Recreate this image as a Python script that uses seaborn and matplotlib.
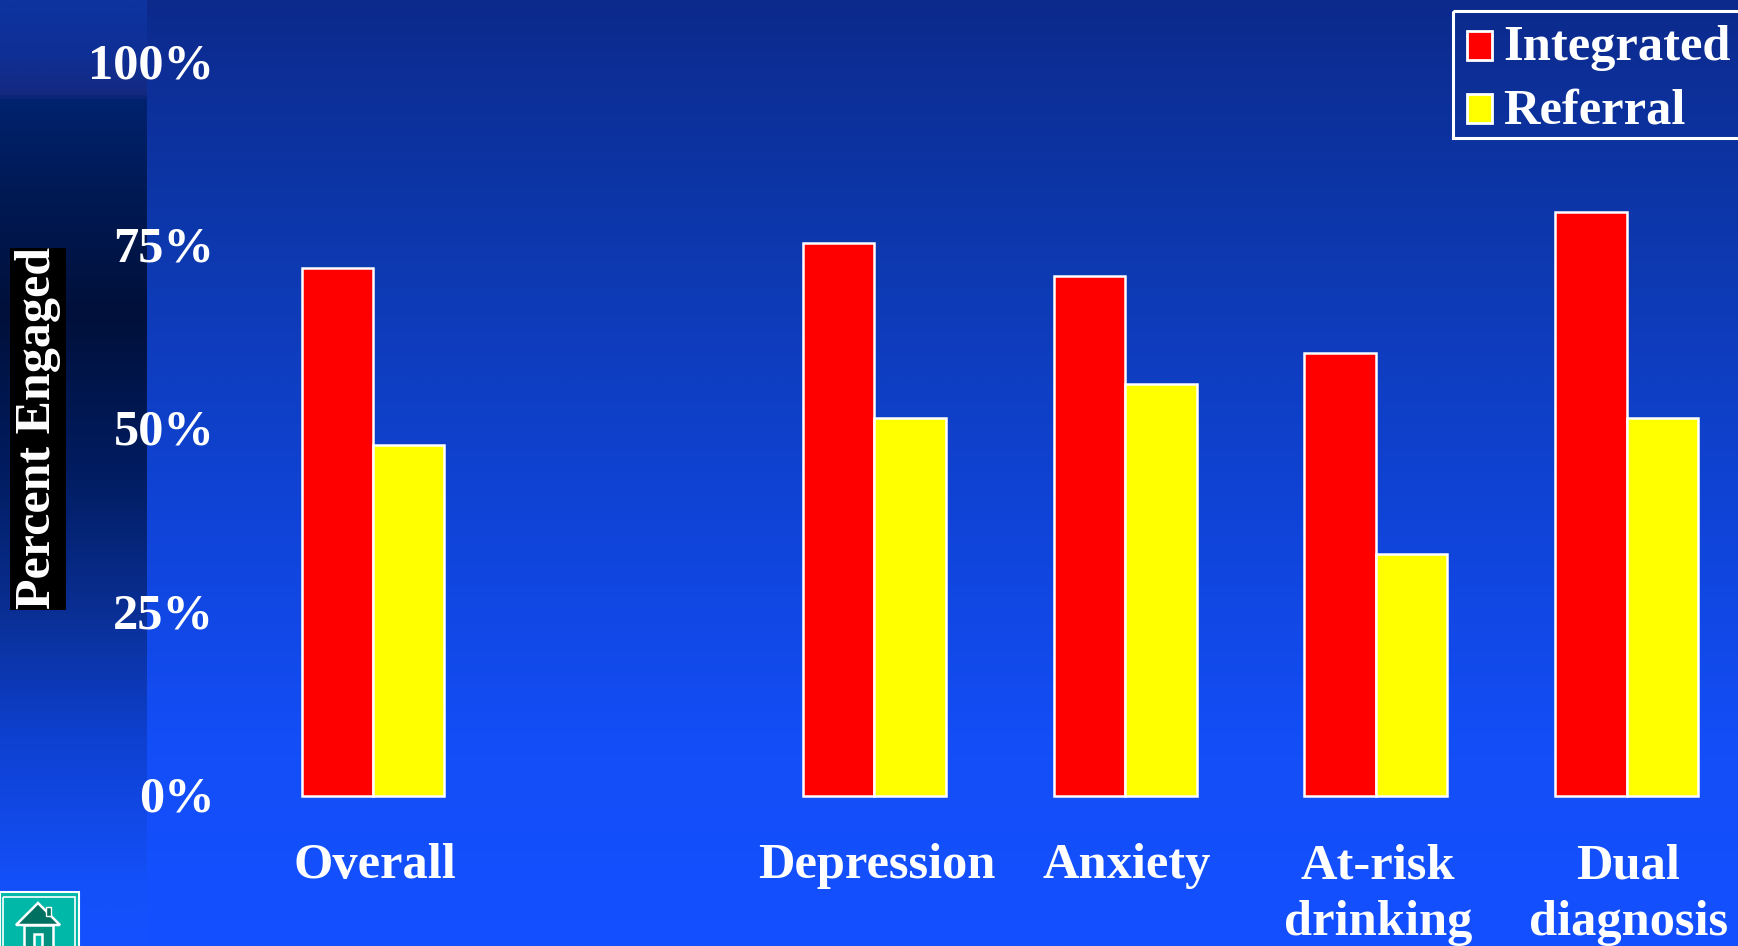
import numpy as np
import pandas as pd
import matplotlib
matplotlib.use("Agg")
import matplotlib.pyplot as plt
from matplotlib.colors import LinearSegmentedColormap
from matplotlib.patches import Rectangle, Polygon
from matplotlib.transforms import ScaledTranslation
import seaborn as sns

# Engagement rates by group; the empty category separates Overall from the diagnoses
categories = ["Overall", " ", "Depression", "Anxiety", "At-risk\ndrinking", "Dual\ndiagnosis"]
integrated = [72, np.nan, 75.5, 71, 60.4, 79.7]
referral = [47.9, np.nan, 51.6, 56.2, 33, 51.6]
y_ticks = [0, 25, 50, 75, 100]
y_tick_labels = ["0%", "25%", "50%", "75%", "100%"]
y_title = "Percent Engaged"

W, H = 1738, 946
SERIF = "Liberation Serif"
FS = 36.4

sns.set_theme(style="white")
plt.rcParams["font.family"] = [SERIF, "DejaVu Serif"]
plt.rcParams["font.weight"] = "bold"

fig = plt.figure(figsize=(W / 100, H / 100), dpi=100)

# Slide background drawn in pixel coordinates
bg = fig.add_axes([0, 0, 1, 1], zorder=0)
bg.set_xlim(0, W)
bg.set_ylim(H, 0)
bg.axis("off")
main_cmap = LinearSegmentedColormap.from_list(
    "slide", [(0, "#0c2a8c"), (0.25, "#0d38ad"), (0.55, "#1044d8"), (0.8, "#134ef8"), (1, "#1450ff")])
bg.imshow(np.linspace(0, 1, 512)[:, None], cmap=main_cmap, aspect="auto", extent=(0, W, H, 0), vmin=0, vmax=1)
side_cmap = LinearSegmentedColormap.from_list(
    "side", [(0, "#0d34a0"), (0.06, "#0f2f94"), (0.1, "#14297f"), (0.104, "#00226f"),
             (0.2, "#001a55"), (0.33, "#00103a"), (0.5, "#011c60"), (0.65, "#0a2f95"),
             (0.78, "#0e40d0"), (0.93, "#1450f8"), (1, "#1450ff")])
bg.imshow(np.linspace(0, 1, 512)[:, None], cmap=side_cmap, aspect="auto", extent=(0, 147, H, 0), vmin=0, vmax=1)
bg.set_xlim(0, W)
bg.set_ylim(H, 0)

# Black plate behind the axis title and the legend outline
bg.add_patch(Rectangle((10, 248), 56, 362, fc="black", ec="none"))
bg.add_patch(Rectangle((1453, 11), 300, 127, fc="none", ec="white", lw=2.2))

# Navigation button in the lower-left corner
bg.add_patch(Rectangle((0, 892), 79, 60, fc="#00b8a8", ec="white", lw=1.5))
bg.add_patch(Rectangle((3, 897), 72, 55, fc="none", ec="white", lw=1.2))
bg.add_patch(Polygon([(16, 925), (38, 903), (60, 925)], closed=True, fc="#007060", ec="white", lw=1.8))
bg.add_patch(Rectangle((46, 907), 5, 9, fc="#007060", ec="white", lw=1))
bg.add_patch(Rectangle((24, 925), 29, 25, fc="#009080", ec="white", lw=1.8))
bg.add_patch(Rectangle((34, 934), 8, 16, fc="#00b8a8", ec="white", lw=1.8))

# Bars
left, right, top, bottom = 222, W, 63, 796
ax = fig.add_axes([left / W, 1 - bottom / H, (right - left) / W, (bottom - top) / H], zorder=1)
ax.patch.set_alpha(0)

df = pd.DataFrame({
    "group": categories * 2,
    "pct": integrated + referral,
    "arm": ["Integrated"] * len(categories) + ["Referral"] * len(categories),
})
sns.barplot(data=df, x="group", y="pct", hue="arm", order=categories,
            palette={"Integrated": "#ff0000", "Referral": "#ffff00"},
            width=0.57, gap=0, errorbar=None, edgecolor="white", linewidth=1.8,
            saturation=1, ax=ax)

ax.set_ylim(0, 100)
ax.set_xlim((left - 373) / 250.7, (right - 373) / 250.7)
ax.set_xlabel("")
ax.set_ylabel("")
ax.set_yticks(y_ticks, y_tick_labels)
ax.tick_params(axis="y", length=0, pad=5.5, labelsize=FS, labelcolor="white")
ax.tick_params(axis="x", length=0, pad=34, labelsize=FS, labelcolor="white")
nudge_x = ScaledTranslation(2 / 100, 0, fig.dpi_scale_trans)
nudge_y = ScaledTranslation(0, 2.2 / 100, fig.dpi_scale_trans)
for lab in ax.get_xticklabels():
    lab.set_linespacing(1.3)
    lab.set_transform(lab.get_transform() + nudge_x)
for lab in ax.get_yticklabels():
    lab.set_transform(lab.get_transform() + nudge_y)
for lab in ax.get_xticklabels() + ax.get_yticklabels():
    lab.set_fontweight("bold")
    lab.set_fontfamily(SERIF)
sns.despine(ax=ax, left=True, bottom=True)
for p in ax.patches:
    p.set_clip_on(False)

# Legend entries; the outline is drawn with the background
sns.move_legend(ax, "upper left", bbox_to_anchor=(1453 / W, 1 - 11 / H),
                bbox_transform=fig.transFigure, borderaxespad=0, title=None,
                frameon=False,
                prop={"family": SERIF, "weight": "bold", "size": FS},
                labelcolor="white", handlelength=0.5, handleheight=0.5,
                handletextpad=0.22, labelspacing=0.34, borderpad=0.28)
for handle in ax.get_legend().legend_handles:
    handle.set_y(handle.get_y() - 2.5)
    handle.set_linewidth(2)

# Rotated axis title
fig.text(38 / W, 1 - 428 / H, y_title, rotation=90, ha="center", va="center",
         color="white", fontsize=36, fontweight="bold", family=SERIF, zorder=3)

fig.savefig("out.png", dpi=100)
